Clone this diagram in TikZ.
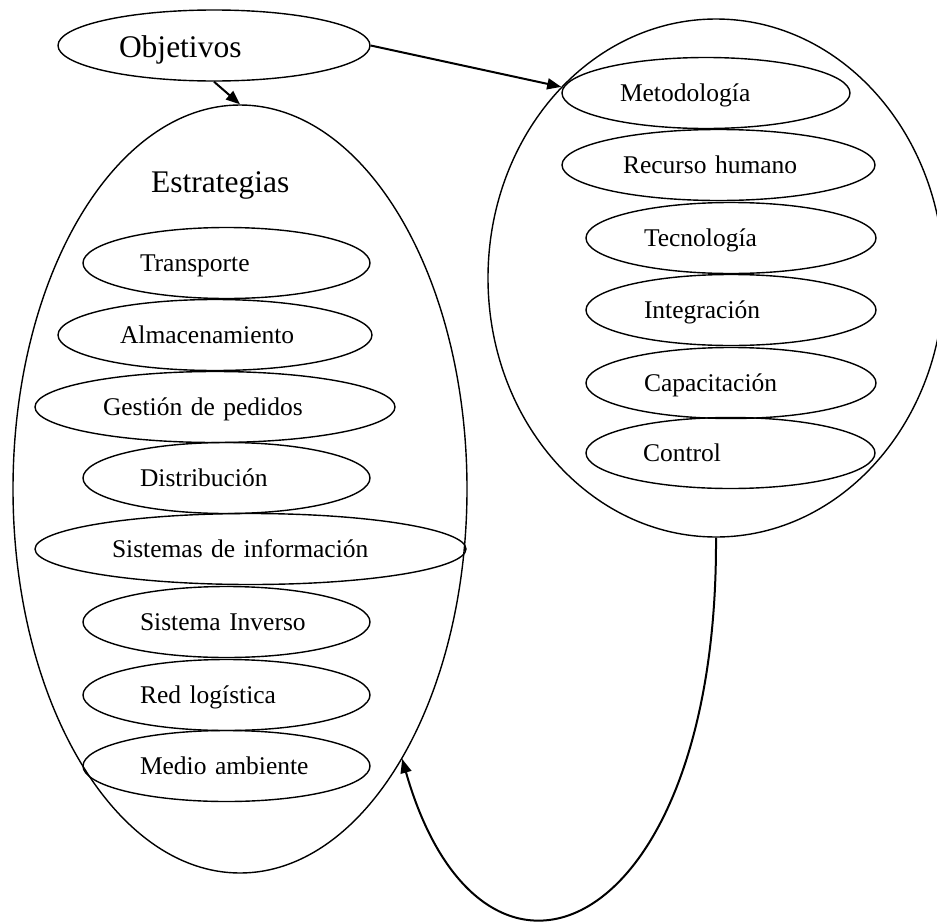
\documentclass[tikz,border=0pt]{standalone}
\usepackage{fontspec}
\setmainfont{Liberation Serif}
\usetikzlibrary{shapes.geometric,arrows.meta}

\tikzset{
  >={Triangle[length=14pt,width=11pt]},
  grupo/.style={draw, ellipse, line width=1.4pt, inner sep=0pt},
  item/.style={draw, ellipse, line width=1.4pt, inner sep=0pt, minimum height=71pt,
    align=left, text height=17pt, text depth=1pt,
    font=\fontsize{25.5pt}{30pt}\selectfont},
  grande/.style={font=\fontsize{31.5pt}{36pt}\selectfont},
  flecha/.style={->, line width=2pt},
}

\begin{document}
\begin{tikzpicture}[x=1pt, y=-1pt]
\useasboundingbox (0,0) rectangle (937,921);

% los dos grupos grandes
\node[grupo, minimum width=454pt, minimum height=768pt] (estr) at (240,489) {};
\node[grupo, minimum width=456pt, minimum height=518pt] (recursos) at (716,278) {};

\node[item, grande, minimum width=312pt, text width=190pt, text height=23pt, text depth=0pt] (obj) at (214,45.5) {Objetivos};
\node[grande, anchor=base west, inner sep=0pt] (titulo) at (151,192) {Estrategias};

% estrategias
\node[item, minimum width=287pt, text width=173pt] (trans) at (226.5,263) {Transporte};
\node[item, minimum width=314pt, text width=190pt] (alma) at (215,335) {Almacenamiento};
\node[item, minimum width=360pt, text width=224pt] (pedidos) at (215,407) {Gestión de pedidos};
\node[item, minimum width=287pt, text width=173pt] (dist) at (226.5,478) {Distribución};
\node[item, minimum width=431pt, text width=277pt] (sist) at (250.5,549) {Sistemas de información};
\node[item, minimum width=287pt, text width=173pt] (inv) at (226.5,622) {Sistema Inverso};
\node[item, minimum width=287pt, text width=173pt] (red) at (226.5,695) {Red logística};
\node[item, minimum width=287pt, text width=173pt] (medio) at (226.5,766) {Medio ambiente};

% recursos
\node[item, minimum width=288pt, text width=172pt] (met) at (706,93) {Metodología};
\node[item, minimum width=313pt, text width=191pt] (rh) at (718.5,165) {Recurso humano};
\node[item, minimum width=290pt, text width=174pt] (tec) at (731,238) {Tecnología};
\node[item, minimum width=290pt, text width=174pt] (integ) at (731,310) {Integración};
\node[item, minimum width=290pt, text width=174pt] (cap) at (731,383) {Capacitación};
\node[item, minimum width=289pt, text width=175pt] (ctrl) at (730.5,453) {Control};

% flechas
\draw[flecha] (obj.south) -- (estr.north);
\draw[flecha] (obj.east) -- (recursos.129.5);
\draw[flecha] (recursos.south) .. controls +(2,400) and +(80,280) .. (estr.-59.7);
\end{tikzpicture}
\end{document}
